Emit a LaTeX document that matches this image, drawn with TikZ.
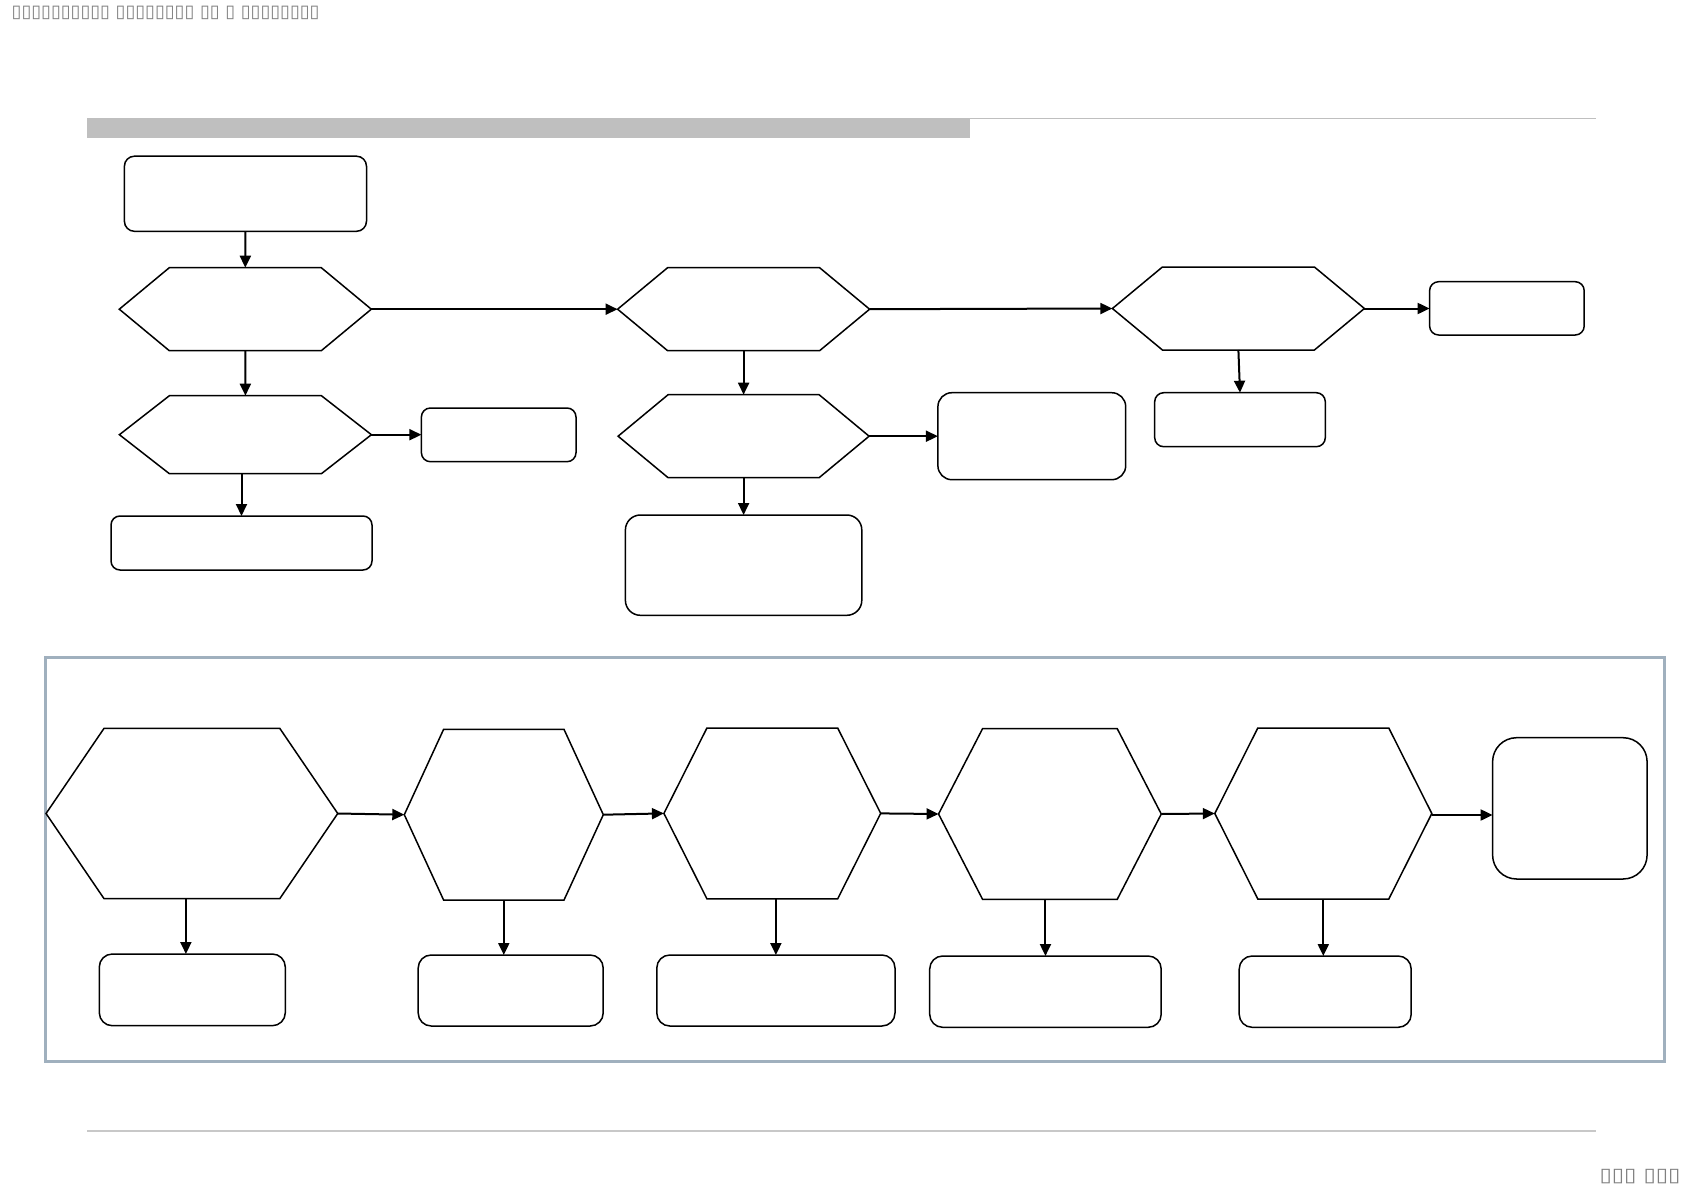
\documentclass[tikz,border=0pt]{standalone}
\usepackage{fontspec}
\newfontfamily\dvsans{DejaVu Sans}
\usetikzlibrary{arrows.meta}
\definecolor{hdrgray}{RGB}{191,191,191}
\definecolor{txtgray}{RGB}{128,128,128}
\definecolor{framec}{RGB}{160,176,190}
\definecolor{rulegray}{RGB}{200,200,200}
\newcommand\hexpath[2]{\draw[hexline] (#1.west) -- ([xshift=#2]#1.north west) -- ([xshift=-#2]#1.north east) -- (#1.east) -- ([xshift=-#2]#1.south east) -- ([xshift=#2]#1.south west) -- cycle;}
\tikzset{
  hexn/.style={rectangle, draw=none, inner sep=0pt, outer sep=0pt},
  hexline/.style={draw=black, line width=1.5pt, line join=miter},
  rbox/.style={rectangle, draw=black, line width=1.5pt, inner sep=0pt, outer sep=0pt, fill=white},
  arr/.style={draw=black, line width=2pt, -{Triangle[length=12pt,width=11pt]}},
  tofu/.style={text=txtgray, inner sep=0pt, outer sep=0pt, font=\dvsans}
}
\begin{document}
\begin{tikzpicture}[x=1pt,y=-1pt]
\useasboundingbox (0,0) rectangle (1684,1191);
% header and footer
\node[tofu, anchor=west] (htxt) at (11.7,12.7) {\resizebox*{308pt}{13.5pt}{▯▯▯▯▯▯▯▯▯▯ ▯▯▯▯▯▯▯▯ ▯▯ ▯ ▯▯▯▯▯▯▯▯}};
\node[tofu, anchor=east] (ftxt) at (1680.5,1176.7) {\resizebox*{81pt}{14.5pt}{▯▯▯ ▯▯▯}};
\fill[hdrgray] (86.7,117.7) rectangle (970,137.7);
\draw[hdrgray, line width=1.6pt] (970,118.6) -- (1596,118.6);
\draw[rulegray, line width=1.2pt] (87,1131) -- (1596,1131);
% frame
\node[rectangle, draw=framec, line width=3pt, inner sep=0pt, minimum width=1619pt, minimum height=404pt] (frame) at (855,859.5) {};
% top section hexagons
\node[hexn, minimum width=252pt, minimum height=83pt] (A) at (245.3,309.2) {};
\node[hexn, minimum width=252pt, minimum height=83pt] (B) at (743.6,309.2) {};
\node[hexn, minimum width=252pt, minimum height=83pt] (C) at (1238.4,308.5) {};
\node[hexn, minimum width=252pt, minimum height=78pt] (D) at (245.4,434.7) {};
\node[hexn, minimum width=251pt, minimum height=83pt] (E) at (743.6,436.2) {};
\hexpath{A}{50pt}
\hexpath{B}{50pt}
\hexpath{C}{50pt}
\hexpath{D}{50pt}
\hexpath{E}{50pt}
% top section boxes
\node[rbox, rounded corners=10pt, minimum width=242.1pt, minimum height=75.1pt] (T) at (245.45,193.75) {};
\node[rbox, rounded corners=9pt, minimum width=154.6pt, minimum height=53.3pt] (C1) at (1506.9,308.35) {};
\node[rbox, rounded corners=9pt, minimum width=170.6pt, minimum height=54pt] (C2) at (1240,419.7) {};
\node[rbox, rounded corners=9pt, minimum width=154.6pt, minimum height=53.7pt] (D1) at (498.7,434.85) {};
\node[rbox, rounded corners=9pt, minimum width=261pt, minimum height=54pt] (D2) at (241.5,543) {};
\node[rbox, rounded corners=14pt, minimum width=187.8pt, minimum height=87pt] (E1) at (1031.8,436.2) {};
\node[rbox, rounded corners=15pt, minimum width=236.4pt, minimum height=100.3pt] (E2) at (743.6,565.15) {};
% top connectors
\draw[arr] (T.south) -- (A.north);
\draw[arr] (A.east) -- (B.west);
\draw[arr] (B.east) -- (C.west);
\draw[arr] (C.east) -- (C.east -| C1.west);
\draw[arr] (C.south) -- (C2.north);
\draw[arr] (A.south) -- (D.north);
\draw[arr] (D.east) -- (D.east -| D1.west);
\draw[arr] (D2.north |- D.south) -- (D2.north);
\draw[arr] (B.south) -- (E.north);
\draw[arr] (E.east) -- (E.east -| E1.west);
\draw[arr] (E.south) -- (E2.north);
% bottom section hexagons
\node[hexn, minimum width=291.7pt, minimum height=170.4pt] (F1) at (191.9,813.5) {};
\node[hexn, minimum width=199pt, minimum height=170.7pt] (F2) at (503.8,814.7) {};
\node[hexn, minimum width=216.8pt, minimum height=170.7pt] (F3) at (772.3,813.4) {};
\node[hexn, minimum width=222.7pt, minimum height=170.6pt] (F4) at (1049.9,814) {};
\node[hexn, minimum width=217pt, minimum height=171pt] (F5) at (1323.3,813.5) {};
\hexpath{F1}{58pt}
\hexpath{F2}{39.3pt}
\hexpath{F3}{43pt}
\hexpath{F4}{44pt}
\hexpath{F5}{43pt}
% bottom boxes
\node[rbox, rounded corners=13pt, minimum width=186pt, minimum height=71.7pt] (H1) at (192.3,989.85) {};
\node[rbox, rounded corners=13pt, minimum width=185pt, minimum height=71pt] (H2) at (510.7,990.5) {};
\node[rbox, rounded corners=13pt, minimum width=238.2pt, minimum height=71pt] (H3) at (775.9,990.5) {};
\node[rbox, rounded corners=13pt, minimum width=231.5pt, minimum height=71.3pt] (H4) at (1045.45,991.65) {};
\node[rbox, rounded corners=13pt, minimum width=172pt, minimum height=71.3pt] (H5) at (1325.2,991.65) {};
\node[rbox, rounded corners=24pt, minimum width=154.5pt, minimum height=141.3pt] (G) at (1569.85,808.35) {};
% bottom connectors
\draw[arr] (F1.east) -- (F2.west);
\draw[arr] (F2.east) -- (F3.west);
\draw[arr] (F3.east) -- (F4.west);
\draw[arr] (F4.east) -- (F5.west);
\draw[arr] ([yshift=-1.5pt]F5.east) -- ([yshift=-1.5pt]F5.east -| G.west);
\draw[arr] ([xshift=-6pt]F1.south) -- ([xshift=-6pt]F1.south |- H1.north);
\draw[arr] (F2.south) -- (F2.south |- H2.north);
\draw[arr] (H3.north |- F3.south) -- (H3.north);
\draw[arr] (H4.north |- F4.south) -- (H4.north);
\draw[arr] (F5.south) -- (F5.south |- H5.north);
\end{tikzpicture}
\end{document}
